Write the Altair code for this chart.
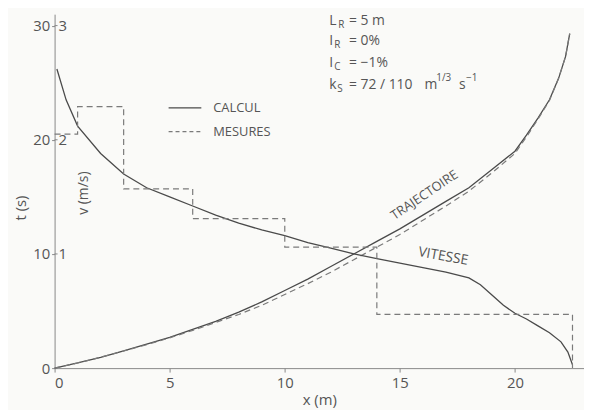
import altair as alt
import pandas as pd

# ---- data ----
traj_x = [0, 1, 2, 3, 4, 5, 6, 7, 8, 9, 10, 11, 12, 13, 14, 15, 16, 17, 18, 19, 20, 20.5, 21, 21.5, 21.9, 22.2, 22.38]
traj_t_calc = [0, 0.45, 0.95, 1.5, 2.1, 2.7, 3.4, 4.1, 4.9, 5.8, 6.8, 7.8, 8.9, 10.0, 11.1, 12.2, 13.4, 14.6, 15.8, 17.4, 19.0, 20.4, 21.9, 23.5, 25.4, 27.3, 29.3]
traj_t_mes = [0, 0.45, 0.95, 1.5, 2.05, 2.65, 3.3, 4.0, 4.7, 5.5, 6.45, 7.4, 8.4, 9.5, 10.6, 11.7, 12.95, 14.2, 15.5, 17.1, 18.8, 20.25, 21.8, 23.45, 25.4, 27.3, 29.3]

vit_x = [0.1, 0.5, 1, 2, 3, 4, 5, 6, 7, 8, 9, 10, 11, 12, 13, 14, 15, 16, 17, 18, 18.5, 19, 19.5, 20, 20.5, 21, 21.5, 22, 22.3, 22.5]
vit_v_calc = [2.62, 2.35, 2.12, 1.88, 1.70, 1.58, 1.50, 1.42, 1.34, 1.27, 1.21, 1.16, 1.10, 1.05, 1.00, 0.96, 0.92, 0.88, 0.84, 0.79, 0.73, 0.64, 0.55, 0.48, 0.43, 0.37, 0.31, 0.23, 0.14, 0.03]

step_edges = [0, 1, 3, 6, 10, 14, 22.5]
step_v = [2.05, 2.29, 1.57, 1.31, 1.06, 0.47]

x_ticks = [0, 5, 10, 15, 20]
t_ticks = [0, 10, 20, 30]
v_ticks = [1, 2, 3]

# ---- tables ----
df_tc = pd.DataFrame({"x": traj_x, "y": traj_t_calc, "o": range(len(traj_x))})
df_tm = pd.DataFrame({"x": traj_x, "y": traj_t_mes, "o": range(len(traj_x))})
df_vc = pd.DataFrame({"x": vit_x, "v": vit_v_calc, "o": range(len(vit_x))})
sx, sv = [], []
for i, v in enumerate(step_v):
    sx += [step_edges[i], step_edges[i + 1]]
    sv += [v, v]
sx.append(step_edges[-1])
sv.append(0)
df_vm = pd.DataFrame({"x": sx, "v": sv, "o": range(len(sx))})
df_vt = pd.DataFrame({"v": v_ticks, "lab": [str(v) for v in v_ticks]})

FONT = "Open Sans"
TXT = "#555555"
LINE = "#4a4a4a"
DASH = "#7a7a7a"

xs = alt.Scale(domain=[0, 23], nice=False, zero=False)
ys = alt.Scale(domain=[0, 31], nice=False, zero=False)

x_axis = alt.Axis(values=x_ticks, title="x (m)", grid=False, tickSize=4,
                  labelPadding=4, titlePadding=2)
y_axis = alt.Axis(values=t_ticks, title="t (s)", grid=False, tickSize=3,
                  labelPadding=2, titleX=-34, titleY=195, titleAngle=270,
                  titleAlign="center", titleBaseline="middle")

base_x_axis = alt.X("x:Q", scale=xs, axis=x_axis)
base_y_axis = alt.Y("y:Q", scale=ys, axis=y_axis)

traj_calc = alt.Chart(df_tc).mark_line(color=LINE, strokeWidth=1.3).encode(
    x=base_x_axis, y=base_y_axis, order="o:Q")
traj_mes = alt.Chart(df_tm).mark_line(color=DASH, strokeWidth=1.2, strokeDash=[6, 4]).encode(
    x=alt.X("x:Q", scale=xs), y=alt.Y("y:Q", scale=ys), order="o:Q")
vit_calc = alt.Chart(df_vc).transform_calculate(y="datum.v*10").mark_line(
    color=LINE, strokeWidth=1.3).encode(
    x=alt.X("x:Q", scale=xs), y=alt.Y("y:Q", scale=ys), order="o:Q")
vit_mes = alt.Chart(df_vm).transform_calculate(y="datum.v*10").mark_line(
    color=DASH, strokeWidth=1.2, strokeDash=[6, 4]).encode(
    x=alt.X("x:Q", scale=xs), y=alt.Y("y:Q", scale=ys), order="o:Q")

v_labels = alt.Chart(df_vt).transform_calculate(y="datum.v*10").mark_text(
    align="left", baseline="middle", font=FONT, fontSize=15, color=TXT, dx=4).encode(
    x=alt.value(0), y=alt.Y("y:Q", scale=ys), text="lab:N")
v_tickmarks = alt.Chart(df_vt).transform_calculate(y="datum.v*10").mark_rule(
    color="#888888", strokeWidth=1).encode(
    x=alt.value(0), x2=alt.value(3), y=alt.Y("y:Q", scale=ys))


def txt(s, x, y, size=14, angle=0, align="left", baseline="alphabetic"):
    return alt.Chart(df_vt.head(1)).mark_text(
        text=s, align=align, baseline=baseline, font=FONT, fontSize=size,
        color=TXT, angle=angle).encode(x=alt.value(x), y=alt.value(y))


def seg(x1, x2, y, dash=None, color=LINE):
    kw = dict(color=color, strokeWidth=1.3)
    if dash:
        kw["strokeDash"] = dash
    return alt.Chart(df_vt.head(1)).mark_rule(**kw).encode(
        x=alt.value(x1), x2=alt.value(x2), y=alt.value(y))


layers = [traj_calc, traj_mes, vit_calc, vit_mes, v_tickmarks, v_labels,
          # legend
          seg(115, 148, 94.5), txt("CALCUL", 160, 94.5, 13, baseline="middle"),
          seg(115, 148, 118.5, dash=[4, 3], color=DASH), txt("MESURES", 160, 118.5, 13, baseline="middle"),
          # parameters block
          txt("L", 277, 10.5), txt("R", 286, 13.5, 10), txt("= 5 m", 297, 10.5),
          txt("I", 277, 31.5), txt("R", 282, 34.5, 10), txt("= 0%", 297, 31.5),
          txt("I", 277, 53), txt("C", 282, 56, 10), txt("= −1%", 297, 53),
          txt("k", 277, 75.5), txt("S", 285, 78.5, 10), txt("= 72 / 110", 297, 75.5),
          txt("m", 373, 75.5), txt("1/3", 385, 67, 10), txt("s", 408, 75.5), txt("−1", 415, 67, 10),
          # curve labels
          txt("TRAJECTOIRE", 373, 182.5, 13, angle=326, align="center", baseline="middle"),
          txt("VITESSE", 392, 244.5, 14, angle=10, align="center", baseline="middle"),
          txt("v (m/s)", 30, 180.5, 14, angle=270, align="center", baseline="middle"),
          ]

chart = alt.layer(*layers).properties(
    width=534, height=357,
    autosize=alt.AutoSizeParams(type="none"),
    padding={"left": 47, "top": 4.5, "right": 0, "bottom": 40},
    background="#fafaf8",
).configure_view(stroke=None).configure_axis(
    domainColor="#888888", tickColor="#888888", labelColor=TXT, titleColor=TXT,
    labelFont=FONT, titleFont=FONT, labelFontSize=15, titleFontSize=15,
    titleFontWeight="normal",
)

chart.save("out.html", embed_options={"renderer": "svg", "actions": False})
